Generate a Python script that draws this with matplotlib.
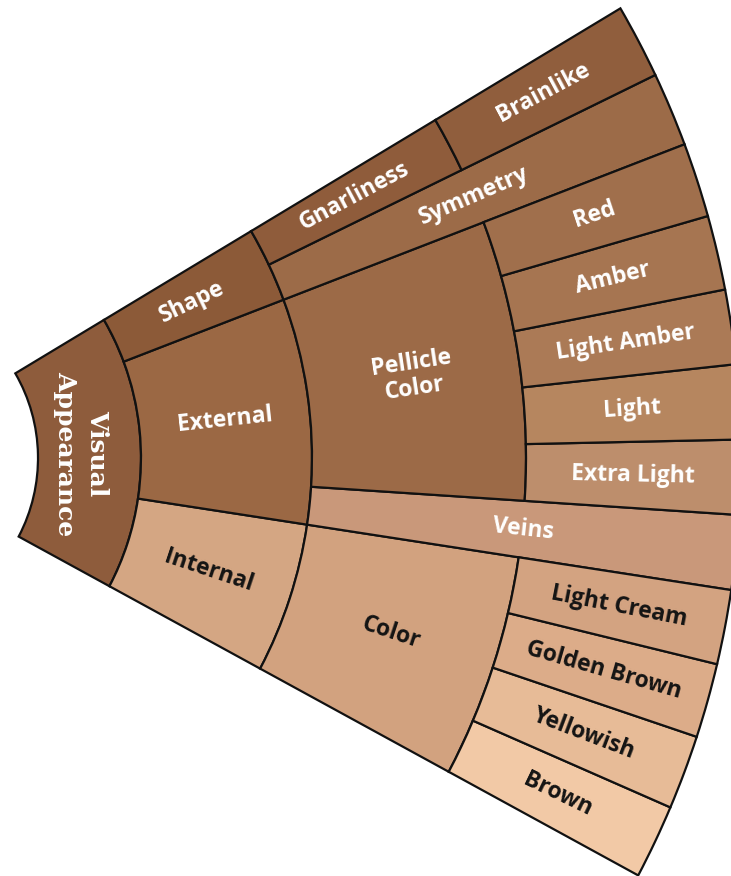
import numpy as np
import matplotlib
matplotlib.use("Agg")
import matplotlib.pyplot as plt
from matplotlib.patches import Wedge

# ---------------- data ----------------
level0_labels = ["Visual\nAppearance"]
level0_sizes = [12]

level1_labels = ["Internal", "External", "Shape"]
level1_sizes = [4, 6, 2]

level2_labels = ["Color", "Veins", "Pellicle\nColor", "Symmetry", "Gnarliness"]
level2_sizes = [4, 1, 5, 1, 1]
level2_rings = [1, 2, 1, 2, 1]          # how many rings each node covers

level3_labels = ["Brown", "Yellowish", "Golden Brown", "Light Cream", None,
                 "Extra Light", "Light", "Light Amber", "Amber", "Red", None,
                 "Brainlike"]
level3_sizes = [1] * 12

# ---------------- styles ----------------
colors = {
    "Visual\nAppearance": "#8e5c3c",
    "Internal": "#d4a683", "External": "#9b6844", "Shape": "#8c5a38",
    "Color": "#d2a27f", "Veins": "#c9987a", "Pellicle\nColor": "#9c6a47",
    "Symmetry": "#9c6b48", "Gnarliness": "#8f5c3b",
    "Brown": "#f2c9a6", "Yellowish": "#e7bb97", "Golden Brown": "#dcac89",
    "Light Cream": "#d3a381", "Extra Light": "#bd8e6c", "Light": "#b6865f",
    "Light Amber": "#ab7a56", "Amber": "#a67551", "Red": "#a06f4c",
    "Brainlike": "#905e3d",
}
dark_text = {"Internal", "Color", "Brown", "Yellowish", "Golden Brown", "Light Cream"}

W, H = 731, 876
YS = 1.02                         # slight vertical stretch of the original
center = (-125, (H - 458) / YS)
radii = [163, 266, 437, 651, 866]
start_angle = -28.2
unit_angle = 4.9

fig = plt.figure(figsize=(W / 100, H / 100), dpi=100)
ax = fig.add_axes([0, 0, 1, 1])
ax.set_xlim(0, W)
ax.set_ylim(0, H / YS)
ax.axis("off")

SANS = ["Open Sans", "DejaVu Sans"]
SERIF = ["DejaVu Serif"]


def draw(label, a0, a1, r0, r1, fs=16.5, label_r=None, rot=None, family=SANS,
         ls=1.1):
    w = Wedge(center, r1, a0, a1, width=r1 - r0, facecolor=colors[label],
              edgecolor="#111111", linewidth=1.6)
    ax.add_patch(w)
    am = 0.5 * (a0 + a1)
    rm = 0.5 * (r0 + r1) if label_r is None else label_r
    x = center[0] + rm * np.cos(np.radians(am))
    y = center[1] + rm * np.sin(np.radians(am))
    ax.text(x, y, label, ha="center", va="center",
            rotation=am if rot is None else rot, rotation_mode="anchor",
            fontsize=fs, fontweight="bold", family=family,
            color="#141414" if label in dark_text else "white",
            linespacing=ls)


def ring(labels, sizes, level, spans=None):
    a = start_angle
    for i, (lab, s) in enumerate(zip(labels, sizes)):
        a1 = a + s * unit_angle
        if lab is not None:
            span = 1 if spans is None else spans[i]
            draw(lab, a, a1, radii[level], radii[level + span])
        a = a1


# level 0
draw(level0_labels[0], start_angle, start_angle + level0_sizes[0] * unit_angle,
     radii[0], radii[1], fs=18, label_r=206, rot=-90, family=SERIF, ls=1.45)
ring(level1_labels, level1_sizes, 1)
ring(level2_labels, level2_sizes, 2, level2_rings)
ring(level3_labels, level3_sizes, 3)

fig.savefig("out.png", dpi=100, facecolor="white")
